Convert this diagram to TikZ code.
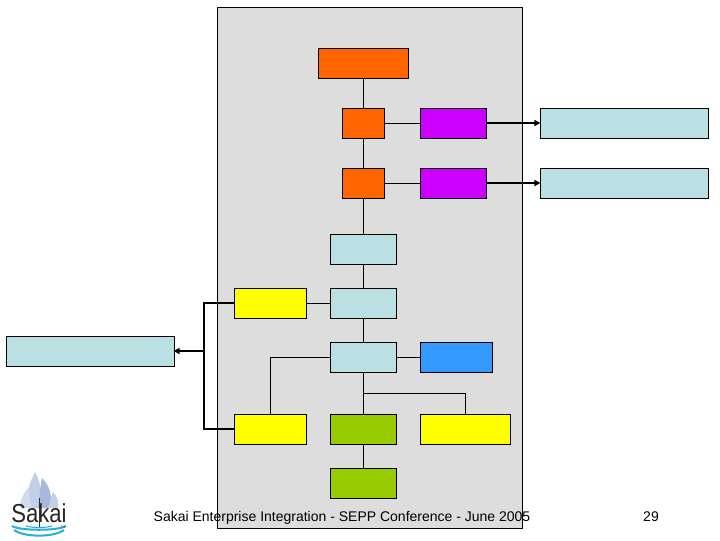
\documentclass[tikz,border=0pt]{standalone}
\usepackage{fontspec}
\usepackage{graphicx}
\setmainfont{Liberation Sans}
\usetikzlibrary{arrows.meta}
\definecolor{panel}{HTML}{DDDDDD}
\definecolor{org}{HTML}{FF6600}
\definecolor{mag}{HTML}{CC00FF}
\definecolor{lblue}{HTML}{BBE0E3}
\definecolor{yel}{HTML}{FFFF00}
\definecolor{blu}{HTML}{3399FF}
\definecolor{grn}{HTML}{99CC00}
\definecolor{sailA}{HTML}{C3CFE6}
\definecolor{sailB}{HTML}{A9B8DA}
\definecolor{sailC}{HTML}{D3DCEE}
\definecolor{ripple}{HTML}{25AEDB}
\tikzset{
  x=0.75pt,y=-0.75pt,
  box/.style={draw=black,line width=0.6pt,minimum height=22.5pt,inner sep=0pt,outer sep=0pt},
  thin link/.style={draw=black,line width=0.6pt},
  thick link/.style={draw=black,line width=1.6pt},
  tipped/.style={thick link,-{Triangle[length=4.5pt,width=4.5pt]},shorten >=-0.3pt},
  caption/.style={font=\fontsize{10.5pt}{12pt}\selectfont,inner sep=0pt,anchor=base}
}
\begin{document}
\begin{tikzpicture}
\useasboundingbox (0,0) rectangle (720,540);
\node[draw=black,line width=0.6pt,fill=panel,minimum width=228.75pt,minimum height=390.75pt,inner sep=0pt] (panel) at (369.5,267.5) {};
\node[box,fill=org,minimum width=67.5pt] (o1) at (363.5,63) {};
\node[box,fill=org,minimum width=31.5pt] (o2) at (363,123) {};
\node[box,fill=org,minimum width=31.5pt] (o3) at (363,183) {};
\node[box,fill=mag,minimum width=49.5pt] (m1) at (453,123) {};
\node[box,fill=mag,minimum width=49.5pt] (m2) at (453,183) {};
\node[box,fill=lblue,minimum width=126pt] (r1) at (624,123) {};
\node[box,fill=lblue,minimum width=126pt] (r2) at (624,183) {};
\node[box,fill=lblue,minimum width=49.5pt] (c1) at (363,249) {};
\node[box,fill=lblue,minimum width=49.5pt] (c2) at (363,303) {};
\node[box,fill=lblue,minimum width=49.5pt] (c3) at (363,357) {};
\node[box,fill=yel,minimum width=54pt] (y1) at (270,303) {};
\node[box,fill=yel,minimum width=54pt] (y2) at (270,429) {};
\node[box,fill=yel,minimum width=67.5pt] (y3) at (465,429) {};
\node[box,fill=blu,minimum width=54pt] (b1) at (456,357) {};
\node[box,fill=grn,minimum width=49.5pt] (g1) at (363,429) {};
\node[box,fill=grn,minimum width=49.5pt] (g2) at (363,483) {};
\node[box,fill=lblue,minimum width=126pt] (l1) at (90,351) {};
\coordinate (busT) at (204,303);
\coordinate (busM) at (204,351);
\coordinate (busB) at (204,429);
\coordinate (tee) at (363,393);
\draw[thin link] (o2.north |- o1.south) -- (o2.north);
\draw[thin link] (o2) -- (o3);
\draw[thin link] (o3) -- (c1);
\draw[thin link] (c1) -- (c2);
\draw[thin link] (c2) -- (c3);
\draw[thin link] (c3) -- (g1);
\draw[thin link] (g1) -- (g2);
\draw[thin link] (o2) -- (m1);
\draw[thin link] (o3) -- (m2);
\draw[thin link] (y1) -- (c2);
\draw[thin link] (c3) -- (b1);
\draw[thin link] (c3.west) -| (y2.north);
\draw[thin link] (tee) -| (y3.north);
\draw[tipped] (m1) -- (r1);
\draw[tipped] (m2) -- (r2);
\draw[thick link] (y1.west) -- (busT) -- (busB) -- (y2.west);
\draw[tipped] (busM) -- (l1.east);
\node[caption] (cap) at (342,521) {Sakai Enterprise Integration - SEPP Conference - June 2005};
\node[caption] (num) at (651,521) {29};
% logo
\fill[sailA] (27,508) .. controls (25,495) and (30,482) .. (35,472) .. controls (41,482) and (42,495) .. (40,508) -- cycle;
\fill[sailB] (38,508) .. controls (40,495) and (40,486) .. (42,478) .. controls (50,486) and (53,497) .. (50,508) -- cycle;
\fill[sailC] (20,508) .. controls (20,500) and (24,492) .. (28,488) -- (32,508) -- cycle;
\fill[sailA] (48,508) .. controls (50,502) and (51,497) .. (53,492) .. controls (58,497) and (59,503) .. (58,508) -- cycle;
\node[font=\fontsize{19.5pt}{20pt}\selectfont,inner sep=0pt,text=black!85,anchor=base] (logo) at (39,522) {\scalebox{0.85}[1]{Sakai}};
\draw[black!80,line width=0.6pt] (39,498) -- (39,527);
\draw[ripple,line width=1.5pt] (12,526) .. controls (20,531) and (58,531) .. (66,526);
\draw[ripple,line width=1.5pt] (14,530) .. controls (24,537.5) and (54,537.5) .. (64,530);
\draw[ripple,line width=0.8pt] (26,526) .. controls (32,528) and (46,528) .. (52,526);
\node[font=\fontsize{2.5pt}{3pt}\selectfont,inner sep=0pt,text=black!70] (tm) at (63,527) {TM};
\end{tikzpicture}
\end{document}
